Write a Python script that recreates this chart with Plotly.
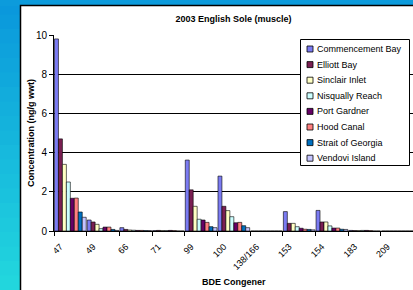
import plotly.graph_objects as go

congeners = ["47", "49", "66", "71", "99", "100", "138/166", "153", "154", "183", "209"]
sites = ["Commencement Bay", "Elliott Bay", "Sinclair Inlet", "Nisqually Reach",
         "Port Gardner", "Hood Canal", "Strait of Georgia", "Vendovi Island"]

commencement_bay = [9.8, 0.56, 0.17, 0.02, 3.62, 2.8, 0, 0.99, 1.05, 0.03, 0]
elliott_bay      = [4.7, 0.46, 0.08, 0.03, 2.1, 1.26, 0, 0.39, 0.46, 0.02, 0]
sinclair_inlet   = [3.4, 0.34, 0.05, 0.02, 1.26, 1.04, 0, 0.39, 0.46, 0.02, 0]
nisqually_reach  = [2.5, 0.12, 0.04, 0.02, 0.6, 0.73, 0, 0.22, 0.26, 0.03, 0]
port_gardner     = [1.67, 0.2, 0.03, 0.03, 0.56, 0.42, 0, 0.14, 0.15, 0.03, 0]
hood_canal       = [1.68, 0.2, 0.03, 0.02, 0.44, 0.44, 0, 0.09, 0.15, 0.02, 0]
strait_georgia   = [0.97, 0.08, 0.02, 0.0, 0.22, 0.27, 0, 0.08, 0.09, 0.0, 0]
vendovi_island   = [0.7, 0.03, 0.02, 0.0, 0.17, 0.17, 0, 0.06, 0.08, 0.0, 0]

series = [commencement_bay, elliott_bay, sinclair_inlet, nisqually_reach,
          port_gardner, hood_canal, strait_georgia, vendovi_island]
colors = ["#7b7bf2", "#7a1f52", "#ffffc4", "#ccffff", "#660066", "#ff8080", "#0070c0", "#c4c4ff"]

FONT = "Arial, Liberation Sans, sans-serif"

fig = go.Figure()
for name, vals, col in zip(sites, series, colors):
    fig.add_trace(go.Bar(x=congeners, y=vals, name=name, showlegend=False, hoverinfo="skip",
                         marker=dict(color=col, line=dict(color="#000000", width=0.6))))

W, H = 413, 290
L, R, T, B = 54, 0, 35, 59
pw, ph = W - L - R, H - T - B


def px(x):
    return (x - L) / pw


def py(y):
    return (H - B - y) / ph


shapes = []
# blue gradient backdrop (left strip and top strip)
top_c = (10, 152, 220)
bot_c = (34, 214, 221)
n = 20
for i in range(n):
    f = i / (n - 1)
    c = tuple(int(round(top_c[k] + (bot_c[k] - top_c[k]) * f)) for k in range(3))
    y0 = H * i / n
    y1 = H * (i + 1) / n + 0.5
    shapes.append(dict(type="rect", xref="paper", yref="paper", layer="below",
                       x0=px(-1), x1=px(21), y0=py(y1), y1=py(y0),
                       fillcolor="rgb(%d,%d,%d)" % c, line=dict(width=0)))
shapes.append(dict(type="rect", xref="paper", yref="paper", layer="below",
                   x0=px(-1), x1=px(W + 2), y0=py(6), y1=py(-1),
                   fillcolor="rgb(12,155,220)", line=dict(width=0)))
# white panel border
shapes.append(dict(type="rect", xref="paper", yref="paper", layer="below",
                   x0=px(20.5), x1=px(W + 5), y0=py(H + 5), y1=py(5.5),
                   fillcolor="white", line=dict(color="#000000", width=1.5)))

annotations = [
    dict(text="<b>BDE Congener</b>", xref="paper", yref="paper", x=0.5, y=py(282),
         showarrow=False, yanchor="middle", xanchor="center", font=dict(size=9, family=FONT)),
    dict(text="<b>Concentration (ng/g wwt)</b>", xref="paper", yref="paper",
         x=px(31), y=0.5, textangle=-90, showarrow=False,
         xanchor="center", yanchor="middle", font=dict(size=9, family=FONT)),
]

# legend box (drawn manually to match the compact Excel legend)
lx0, lx1, ly0, ly1 = 300.5, 409.5, 39.5, 165.5
shapes.append(dict(type="rect", xref="paper", yref="paper",
                   x0=px(lx0), x1=px(lx1), y0=py(ly1), y1=py(ly0),
                   fillcolor="white", line=dict(color="#000000", width=1)))
step = 15.6
for i, (name, col) in enumerate(zip(sites, colors)):
    cy = 49 + step * i
    shapes.append(dict(type="rect", xref="paper", yref="paper",
                       x0=px(307), x1=px(313), y0=py(cy + 3), y1=py(cy - 3),
                       fillcolor=col, line=dict(color="#000000", width=0.8)))
    annotations.append(dict(text=name, xref="paper", yref="paper", x=px(315), y=py(cy),
                            xanchor="left", yanchor="middle", showarrow=False,
                            font=dict(size=9, family=FONT)))

fig.update_layout(
    width=W, height=H, autosize=False,
    margin=dict(l=L, r=R, t=T, b=B, pad=0, autoexpand=False),
    paper_bgcolor="white",
    plot_bgcolor="#a4e0e0",
    barmode="group", bargap=0.03, bargroupgap=0,
    font=dict(family=FONT, size=9, color="#000000"),
    title=dict(text="<b>2003 English Sole (muscle)</b>", x=0.5, xref="paper",
               y=1 - 19 / H, yref="container", yanchor="middle",
               font=dict(size=9, family=FONT)),
    showlegend=False,
    hovermode=False,
    shapes=shapes,
    annotations=annotations,
)

fig.update_xaxes(type="category", range=[-0.5, 10.48], tickson="boundaries",
                 ticks="outside", ticklen=4, tickcolor="#000000", tickangle=-45,
                 showline=True, linecolor="#000000", linewidth=1, automargin=False,
                 showgrid=False, tickfont=dict(size=9, family=FONT),
                 ticklabelshift=-10, ticklabelstandoff=6, mirror=False)
fig.update_yaxes(range=[0, 10], dtick=2, tick0=0, ticks="outside", ticklen=4,
                 tickcolor="#000000", showline=True, linecolor="#000000", linewidth=1,
                 showgrid=True, gridcolor="#000000", gridwidth=1, automargin=False,
                 tickfont=dict(size=10, family=FONT), zeroline=False)

post = ("var d=document.getElementById('{plot_id}');"
        "document.documentElement.style.margin='0';"
        "document.body.style.margin='0';document.body.style.padding='0';"
        "d.style.position='fixed';d.style.left='0px';d.style.top='0px';")

fig.write_html("out.html",
               config={"displayModeBar": False, "responsive": False, "staticPlot": True},
               post_script=post)
